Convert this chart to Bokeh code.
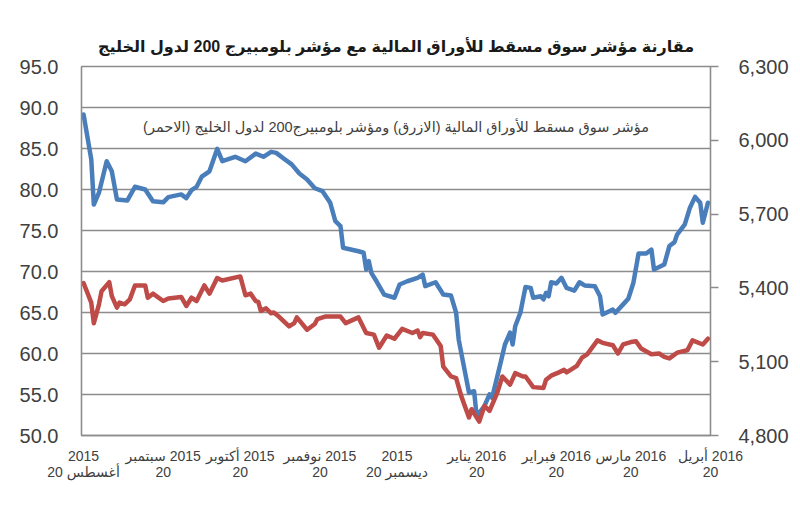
import pandas as pd
from bokeh.plotting import figure
from bokeh.models import Range1d, LinearAxis, FixedTicker, PrintfTickFormatter, NumeralTickFormatter, Label
from bokeh.embed import file_html
from bokeh.resources import INLINE

# ---------------- data ----------------
title_text = "مقارنة مؤشر سوق مسقط للأوراق المالية مع مؤشر بلومبيرج 200 لدول الخليج"
note_text = "\u200fمؤشر سوق مسقط للأوراق المالية (الازرق) ومؤشر بلومبيرج200 لدول الخليج (الاحمر)\u200f"

base_date = "2015-08-20"
tick_dates = ["2015-08-20", "2015-09-20", "2015-10-20", "2015-11-20", "2015-12-20",
              "2016-01-20", "2016-02-20", "2016-03-20", "2016-04-20"]
tick_labels = ["2015\n20 أغسطس",
               "سبتمبر\u200e 2015\n20",
               "أكتوبر\u200e 2015\n20",
               "نوفمبر\u200e 2015\n20",
               "2015\n20 ديسمبر",
               "يناير\u200e 2016\n20",
               "فبراير\u200e 2016\n20",
               "مارس\u200e 2016\n20",
               "أبريل\u200e 2016\n20"]
left_ticks = [50, 55, 60, 65, 70, 75, 80, 85, 90, 95]
right_ticks = [4800, 5100, 5400, 5700, 6000, 6300]

# MSM 30 (blue, right axis)
msm_dates = ["2015-08-20", "2015-08-23", "2015-08-24", "2015-08-26", "2015-08-29", "2015-08-31",
             "2015-09-02", "2015-09-06", "2015-09-09", "2015-09-13", "2015-09-16", "2015-09-20",
             "2015-09-22", "2015-09-27", "2015-09-29", "2015-10-01", "2015-10-03", "2015-10-05",
             "2015-10-08", "2015-10-11", "2015-10-13", "2015-10-18", "2015-10-22", "2015-10-26",
             "2015-10-29", "2015-11-01", "2015-11-03", "2015-11-06", "2015-11-09", "2015-11-12",
             "2015-11-15", "2015-11-18", "2015-11-21", "2015-11-24", "2015-11-26", "2015-11-28",
             "2015-11-29", "2015-12-05", "2015-12-07", "2015-12-08", "2015-12-09", "2015-12-10",
             "2015-12-12", "2015-12-15", "2015-12-19", "2015-12-21", "2015-12-24", "2015-12-28",
             "2015-12-30", "2015-12-31", "2016-01-04", "2016-01-07", "2016-01-10", "2016-01-12",
             "2016-01-13", "2016-01-15", "2016-01-17", "2016-01-19", "2016-01-20", "2016-01-23",
             "2016-01-25", "2016-01-26", "2016-01-29", "2016-01-31", "2016-02-02", "2016-02-03",
             "2016-02-04", "2016-02-06", "2016-02-08", "2016-02-10", "2016-02-11", "2016-02-14",
             "2016-02-15", "2016-02-16", "2016-02-17", "2016-02-18", "2016-02-20", "2016-02-22",
             "2016-02-24", "2016-02-27", "2016-02-29", "2016-03-02", "2016-03-06", "2016-03-08",
             "2016-03-09", "2016-03-13", "2016-03-14", "2016-03-17", "2016-03-19", "2016-03-21",
             "2016-03-23", "2016-03-26", "2016-03-28", "2016-03-29", "2016-04-02", "2016-04-04",
             "2016-04-06", "2016-04-07", "2016-04-10", "2016-04-12", "2016-04-14", "2016-04-16",
             "2016-04-17", "2016-04-19"]
msm_values = [6105, 5922, 5739, 5787, 5915, 5874,
              5759, 5755, 5811, 5800, 5752, 5748,
              5769, 5780, 5765, 5797, 5811, 5852,
              5874, 5965, 5915, 5933, 5915, 5946,
              5933, 5953, 5949, 5925, 5902, 5865,
              5841, 5805, 5793, 5746, 5671, 5651,
              5563, 5549, 5543, 5475, 5509, 5461,
              5427, 5373, 5360, 5414, 5427, 5441,
              5454, 5407, 5423, 5373, 5369, 5299,
              5190, 5082, 4974, 4980, 4878, 4919,
              4967, 4953, 5082, 5170, 5218, 5170,
              5244, 5299, 5404, 5400, 5360, 5366,
              5353, 5380, 5366, 5423, 5418, 5441,
              5400, 5389, 5423, 5410, 5407, 5366,
              5292, 5312, 5299, 5333, 5356, 5421,
              5540, 5540, 5556, 5475, 5495, 5570,
              5586, 5617, 5658, 5726, 5770, 5746,
              5665, 5746]

# Bloomberg GCC 200 (red, left axis)
gcc_dates = ["2015-08-20", "2015-08-23", "2015-08-24", "2015-08-26", "2015-08-27", "2015-08-30",
             "2015-08-31", "2015-09-02", "2015-09-03", "2015-09-05", "2015-09-07", "2015-09-09",
             "2015-09-13", "2015-09-14", "2015-09-16", "2015-09-20", "2015-09-22", "2015-09-27",
             "2015-09-29", "2015-10-01", "2015-10-03", "2015-10-06", "2015-10-08", "2015-10-11",
             "2015-10-13", "2015-10-20", "2015-10-22", "2015-10-24", "2015-10-26", "2015-10-27",
             "2015-10-28", "2015-10-30", "2015-11-01", "2015-11-02", "2015-11-04", "2015-11-08",
             "2015-11-10", "2015-11-11", "2015-11-15", "2015-11-18", "2015-11-19", "2015-11-22",
             "2015-11-28", "2015-11-30", "2015-12-05", "2015-12-08", "2015-12-11", "2015-12-13",
             "2015-12-16", "2015-12-19", "2015-12-22", "2015-12-26", "2015-12-28", "2015-12-29",
             "2015-12-30", "2016-01-03", "2016-01-06", "2016-01-07", "2016-01-10", "2016-01-12",
             "2016-01-14", "2016-01-17", "2016-01-18", "2016-01-21", "2016-01-23", "2016-01-25",
             "2016-01-28", "2016-01-30", "2016-02-02", "2016-02-04", "2016-02-07", "2016-02-08",
             "2016-02-11", "2016-02-15", "2016-02-16", "2016-02-18", "2016-02-21", "2016-02-23",
             "2016-02-24", "2016-02-28", "2016-03-01", "2016-03-03", "2016-03-07", "2016-03-09",
             "2016-03-13", "2016-03-15", "2016-03-17", "2016-03-20", "2016-03-22", "2016-03-24",
             "2016-03-28", "2016-03-31", "2016-04-02", "2016-04-04", "2016-04-07", "2016-04-11",
             "2016-04-13", "2016-04-17", "2016-04-19"]
gcc_values = [68.6, 66.2, 63.7, 66.0, 67.6, 68.7,
              67.0, 65.6, 66.2, 66.0, 66.6, 68.3,
              68.3, 66.8, 67.3, 66.4, 66.7, 66.9,
              65.8, 66.8, 66.4, 68.3, 67.3, 69.2,
              68.9, 69.4, 67.1, 67.3, 66.4, 66.3,
              65.2, 65.5, 64.9, 65.0, 64.5, 63.3,
              63.7, 64.4, 62.9, 63.6, 64.2, 64.5,
              64.5, 63.7, 64.4, 62.5, 62.3, 60.7,
              62.2, 61.8, 63.0, 62.5, 62.8, 62.0,
              62.5, 62.3, 60.9, 58.4, 57.2, 57.0,
              54.8, 52.2, 53.2, 51.7, 53.6, 53.0,
              55.2, 57.2, 56.2, 57.6, 57.2, 57.2,
              55.9, 55.8, 56.8, 57.3, 57.7, 58.0,
              57.7, 58.5, 59.5, 59.9, 61.6, 61.3,
              61.0, 60.0, 61.1, 61.4, 61.5, 60.6,
              59.9, 60.0, 59.6, 59.4, 60.1, 60.4,
              61.6, 61.1, 61.8]

# ---------------- build ----------------
base = pd.Timestamp(base_date)
def to_days(ds):
    return [int(v) for v in (pd.to_datetime(ds) - base).days]

msm_x = to_days(msm_dates)
gcc_x = to_days(gcc_dates)
tick_x = to_days(tick_dates)

FONT = "Liberation Sans, DejaVu Sans, sans-serif"
GRID = "#8c8c8c"
TXT = "#404040"

p = figure(width=791, height=511, output_backend="svg", toolbar_location=None,
           x_range=Range1d(-0.8, 244.0), y_range=Range1d(left_ticks[0], left_ticks[-1]),
           min_border_left=81, min_border_right=77, min_border_top=66, min_border_bottom=76)
p.background_fill_color = "white"
p.border_fill_color = "white"
p.outline_line_color = GRID
p.outline_line_width = 1.3

p.title.text = title_text
p.title.align = "center"
p.title.text_font = FONT
p.title.text_font_size = "16px"
p.title.text_font_style = "bold"
p.title.text_color = "#1a1a1a"
p.title.standoff = 24

p.extra_y_ranges = {"msm": Range1d(right_ticks[0], right_ticks[-1])}

# grid
p.xgrid.visible = False
p.ygrid.ticker = FixedTicker(ticks=left_ticks)
p.ygrid.grid_line_color = GRID
p.ygrid.grid_line_width = 1.3

# left axis
ya = p.yaxis[0]
ya.ticker = FixedTicker(ticks=left_ticks)
ya.formatter = PrintfTickFormatter(format="%.1f")
ya.major_tick_line_color = None
ya.minor_tick_line_color = None
ya.axis_line_color = GRID
ya.axis_line_width = 1.3
ya.major_label_text_font = FONT
ya.major_label_text_font_size = "20px"
ya.major_label_text_color = TXT
ya.major_label_standoff = 17

# right axis
ra = LinearAxis(y_range_name="msm", ticker=FixedTicker(ticks=right_ticks),
                formatter=NumeralTickFormatter(format="0,0"))
ra.major_tick_out = 8
ra.major_tick_in = 0
ra.major_tick_line_color = GRID
ra.major_tick_line_width = 1.3
ra.minor_tick_line_color = None
ra.axis_line_color = GRID
ra.axis_line_width = 1.3
ra.major_label_text_font = FONT
ra.major_label_text_font_size = "20px"
ra.major_label_text_color = TXT
ra.major_label_standoff = 20
p.add_layout(ra, "right")

# bottom axis
xa = p.xaxis[0]
xa.ticker = FixedTicker(ticks=tick_x)
xa.major_label_overrides = {t: lab for t, lab in zip(tick_x, tick_labels)}
xa.major_tick_line_color = None
xa.minor_tick_line_color = None
xa.axis_line_color = GRID
xa.axis_line_width = 1.3
xa.major_label_text_font = FONT
xa.major_label_text_font_size = "14px"
xa.major_label_text_color = TXT
xa.major_label_text_line_height = 1.05
xa.major_label_standoff = 6

# lines
p.line(msm_x, msm_values, y_range_name="msm", line_color="#4A7EBB", line_width=4.5,
       line_join="round", line_cap="round")
p.line(gcc_x, gcc_values, line_color="#BE4B48", line_width=4.5,
       line_join="round", line_cap="round")

# note inside plot
note = Label(x=(p.x_range.start + p.x_range.end) / 2, y=87.6, text=note_text,
             text_align="center", text_baseline="middle",
             text_font=FONT, text_font_size="14.5px", text_color=TXT)
p.add_layout(note)

open("out.html", "w").write(file_html(p, INLINE))
